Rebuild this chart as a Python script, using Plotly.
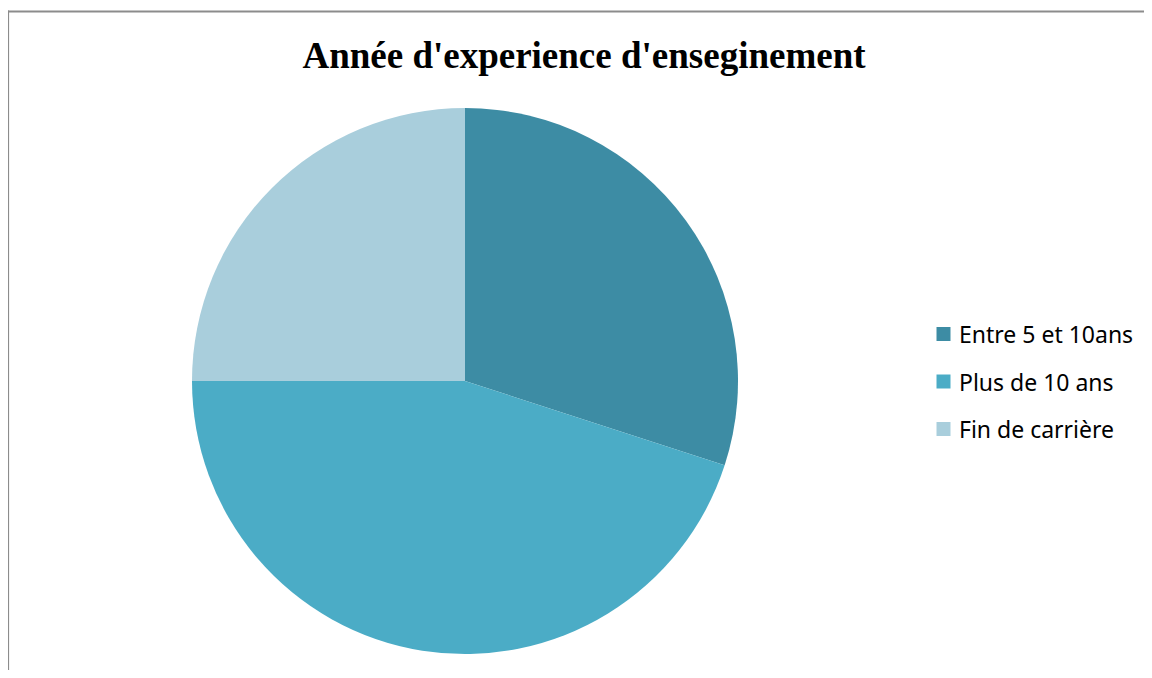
import plotly.graph_objects as go

labels = ["Entre 5 et 10ans", "Plus de 10 ans", "Fin de carrière"]
values = [30, 45, 25]
colors = ["#3D8CA4", "#4BACC6", "#A9CEDC"]
title_text = "Année d'experience d'enseginement"

W, H = 1152, 678
OFF = 8  # page body margin in the browser
FW, FH = W - 2 * OFF, H - 2 * OFF  # figure size that fits without scrollbars


def px(x):
    return (x - OFF) / FW


def py(y):
    return (FH - (y - OFF)) / FH


fig = go.Figure(go.Pie(
    labels=labels, values=values, sort=False, direction="clockwise", rotation=0,
    marker=dict(colors=colors, line=dict(width=0)),
    textinfo="none", hoverinfo="label+percent", showlegend=False,
    domain=dict(x=[px(192), px(738)], y=[py(654), py(108)]),
))

# Chart frame (top and left edges visible in the crop)
frame = dict(color="#8C8C8C", width=2.2)
fig.add_shape(type="line", xref="paper", yref="paper",
              x0=px(7), x1=1.0, y0=py(11.5), y1=py(11.5), line=frame)
fig.add_shape(type="line", xref="paper", yref="paper",
              x0=px(8), x1=px(8), y0=0.0, y1=py(10.5), line=frame)

# Legend drawn manually
sq_cx, txt_x, y0, dy, sq = 943.5, 957, 334, 47.5, 14
for i, (lab, col) in enumerate(zip(labels, colors)):
    yc = y0 + i * dy
    fig.add_shape(type="rect", xref="paper", yref="paper",
                  x0=px(sq_cx - sq / 2), x1=px(sq_cx + sq / 2),
                  y0=py(yc + sq / 2), y1=py(yc - sq / 2),
                  line=dict(width=0), fillcolor=col)
    fig.add_annotation(x=px(txt_x), y=py(yc), xref="paper", yref="paper",
                       text=lab, showarrow=False, xanchor="left", yanchor="middle",
                       font=dict(family="Noto Sans", size=23, color="#000000"))

fig.update_layout(
    width=FW, height=FH,
    margin=dict(l=0, r=0, t=0, b=0),
    paper_bgcolor="white", plot_bgcolor="white",
    title=dict(text=f"<b>{title_text}</b>", x=px(584), xanchor="center",
               y=py(55), yanchor="middle",
               font=dict(family="Liberation Serif", size=37, color="#000000")),
)

fig.write_html("out.html")
